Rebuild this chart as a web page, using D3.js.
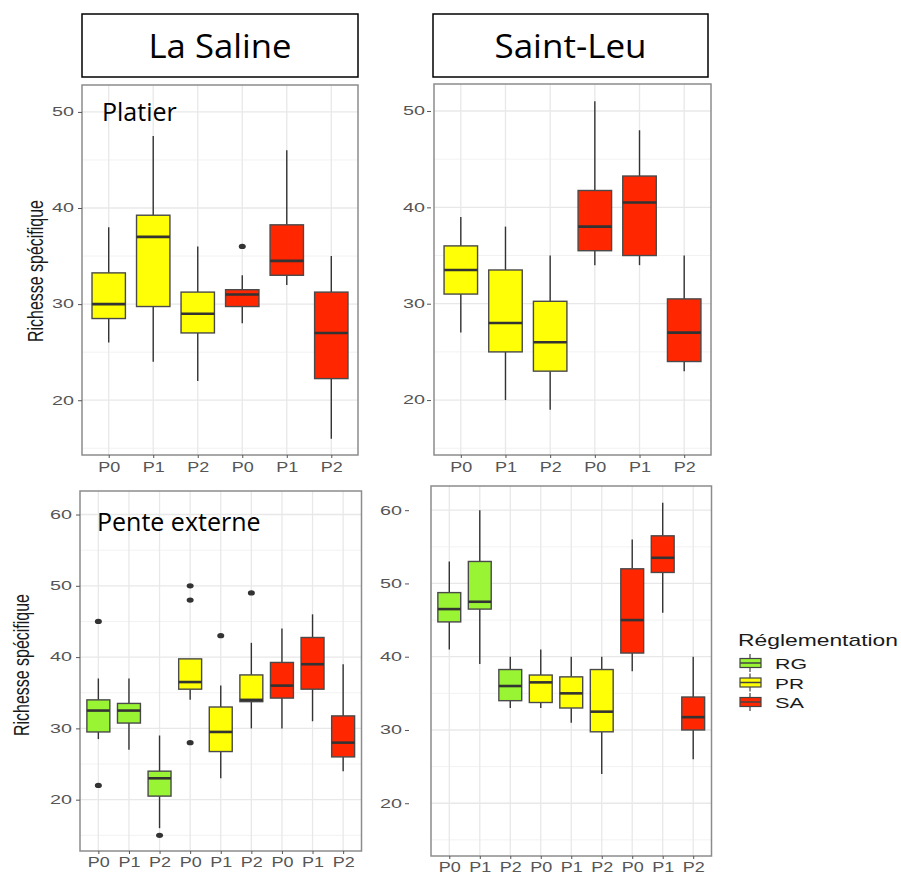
<!DOCTYPE html>
<html>
<head>
<meta charset="utf-8">
<script src="https://cdn.jsdelivr.net/npm/d3@7"></script>
<style>
  body { margin: 0; background: #fff; }
  svg { display: block; }
</style>
</head>
<body>
<div id="chart"></div>
<script>
// categories
const periods = ['P0', 'P1', 'P2'];
const regulations = ['RG', 'PR', 'SA'];
const sites = ['La Saline', 'Saint-Leu'];
const habitats = ['Platier', 'Pente externe'];
const yTicksPlatier = [20, 30, 40, 50];
const yTicksPente = [20, 30, 40, 50, 60];

// box stats: [lower whisker, Q1, median, Q3, upper whisker], periods P0..P2 per regulation
const salinePlatierRegs = ['PR', 'SA'];
const salinePlatierStats = [
  [26, 28.5, 30, 33.25, 38], [24, 29.75, 37, 39.25, 47.5], [22, 27, 29, 31.25, 36],
  [28, 29.75, 31, 31.5, 33], [32, 33, 34.5, 38.25, 46], [16, 22.25, 27, 31.25, 35]
];
const salinePlatierOutliers = [[], [], [], [36], [], []];

const leuPlatierRegs = ['PR', 'SA'];
const leuPlatierStats = [
  [27, 31, 33.5, 36, 39], [20, 25, 28, 33.5, 38], [19, 23, 26, 30.25, 35],
  [34, 35.5, 38, 41.75, 51], [34, 35, 40.5, 43.25, 48], [23, 24, 27, 30.5, 35]
];
const leuPlatierOutliers = [[], [], [], [], [], []];

const salinePenteRegs = ['RG', 'PR', 'SA'];
const salinePenteStats = [
  [28.5, 29.5, 32.5, 34, 37], [27, 30.75, 32.5, 33.5, 37], [16, 20.5, 23, 24, 29],
  [34, 35.5, 36.5, 39.75, 39.75], [23, 26.75, 29.5, 33, 36], [30, 33.75, 34, 37.5, 42],
  [30, 34.25, 36, 39.25, 44], [31, 35.5, 39, 42.75, 46], [24, 26, 28, 31.75, 39]
];
const salinePenteOutliers = [[45, 22], [], [15], [50, 48, 28], [43], [49], [], [], []];

const leuPenteRegs = ['RG', 'PR', 'SA'];
const leuPenteStats = [
  [41, 44.75, 46.5, 48.75, 53], [39, 46.5, 47.5, 53, 60], [33, 34, 36, 38.25, 40],
  [33, 33.75, 36.5, 37.5, 41], [31, 33, 35, 37.25, 40], [24, 29.75, 32.5, 38.25, 40],
  [38, 40.5, 45, 52, 56], [46, 51.5, 53.5, 56.5, 61], [26, 30, 31.75, 34.5, 40]
];
const leuPenteOutliers = [[], [], [], [], [], [], [], [], []];

const fills = { RG: '#99f533', PR: '#ffff05', SA: '#ff2600' };

const W = 901, H = 874;
const svg = d3.select('#chart').append('svg')
  .attr('width', W).attr('height', H)
  .style('font-family', '"Liberation Sans", Arial, sans-serif');

const panels = [
  { regs: salinePlatierRegs, stats: salinePlatierStats, outliers: salinePlatierOutliers,
    ticks: yTicksPlatier, domain: [14.3, 52.8], left: 82, right: 358, top: 85, bottom: 455,
    axisX: 82, labelGap: 4, xLabelGap: 4, label: habitats[0], labelPos: [102, 121] },
  { regs: leuPlatierRegs, stats: leuPlatierStats, outliers: leuPlatierOutliers,
    ticks: yTicksPlatier, domain: [14.3, 52.8], left: 434, right: 711, top: 84, bottom: 455,
    axisX: 431, labelGap: 2, xLabelGap: 4 },
  { regs: salinePenteRegs, stats: salinePenteStats, outliers: salinePenteOutliers,
    ticks: yTicksPente, domain: [12.8, 63.3], left: 80, right: 361.5, top: 491, bottom: 851,
    axisX: 80, labelGap: 4, xLabelGap: 3, label: habitats[1], labelPos: [97, 531] },
  { regs: leuPenteRegs, stats: leuPenteStats, outliers: leuPenteOutliers,
    ticks: yTicksPente, domain: [12.8, 63.3], left: 431, right: 711.5, top: 486, bottom: 856,
    axisX: 409, labelGap: 3, xLabelGap: 3 }
];

panels.forEach(p => {
  const keys = p.regs.flatMap(r => periods.map(per => r + '|' + per));
  const x = d3.scalePoint().domain(keys).range([p.left, p.right]).padding(0.6);
  const y = d3.scaleLinear().domain(p.domain).range([p.bottom, p.top]);
  const g = svg.append('g');

  // minor + major grid
  const minor = d3.range(Math.ceil(p.domain[0] / 5) * 5, p.domain[1], 5).filter(v => v % 10 !== 0);
  g.selectAll('.minor').data(minor).join('line')
    .attr('x1', p.left).attr('x2', p.right)
    .attr('y1', d => y(d)).attr('y2', d => y(d))
    .attr('stroke', '#f2f2f2').attr('stroke-width', 1);
  g.selectAll('.major').data(p.ticks).join('line')
    .attr('x1', p.left).attr('x2', p.right)
    .attr('y1', d => y(d)).attr('y2', d => y(d))
    .attr('stroke', '#e8e8e8').attr('stroke-width', 1.3);
  g.selectAll('.vgrid').data(keys).join('line')
    .attr('x1', d => x(d)).attr('x2', d => x(d))
    .attr('y1', p.top).attr('y2', p.bottom)
    .attr('stroke', '#e8e8e8').attr('stroke-width', 1.3);

  // boxes
  const bw = x.step() * 0.75;
  keys.forEach((k, i) => {
    const [lo, q1, med, q3, hi] = p.stats[i];
    const reg = k.split('|')[0];
    const cx = x(k);
    g.append('line').attr('x1', cx).attr('x2', cx).attr('y1', y(hi)).attr('y2', y(q3))
      .attr('stroke', '#333').attr('stroke-width', 1.4);
    g.append('line').attr('x1', cx).attr('x2', cx).attr('y1', y(q1)).attr('y2', y(lo))
      .attr('stroke', '#333').attr('stroke-width', 1.4);
    g.append('rect').attr('x', cx - bw / 2).attr('width', bw)
      .attr('y', y(q3)).attr('height', y(q1) - y(q3))
      .attr('fill', fills[reg]).attr('stroke', '#4a4a4a').attr('stroke-width', 1.4);
    g.append('line').attr('x1', cx - bw / 2).attr('x2', cx + bw / 2)
      .attr('y1', y(med)).attr('y2', y(med))
      .attr('stroke', '#333').attr('stroke-width', 2.6);
    g.selectAll(null).data(p.outliers[i]).join('ellipse')
      .attr('cx', cx).attr('cy', d => y(d)).attr('rx', 3.5).attr('ry', 2.6)
      .attr('fill', '#333');
  });

  // panel border
  g.append('rect').attr('x', p.left).attr('y', p.top)
    .attr('width', p.right - p.left).attr('height', p.bottom - p.top)
    .attr('fill', 'none').attr('stroke', '#8c8c8c').attr('stroke-width', 1.5);

  // y axis
  const ya = g.append('g').attr('transform', `translate(${p.axisX},0)`)
    .call(d3.axisLeft(y).tickValues(p.ticks).tickSize(4).tickPadding(p.labelGap));
  ya.select('.domain').remove();
  ya.selectAll('line').attr('stroke', '#555');
  ya.selectAll('text').attr('fill', '#555').style('font-size', '12px')
    .attr('textLength', 22).attr('lengthAdjust', 'spacingAndGlyphs');

  // x axis
  const xa = g.append('g').attr('transform', `translate(0,${p.bottom})`)
    .call(d3.axisBottom(x).tickSize(3).tickPadding(p.xLabelGap).tickFormat(d => d.split('|')[1]));
  xa.select('.domain').remove();
  xa.selectAll('line').attr('stroke', '#555');
  xa.selectAll('text').attr('fill', '#555').style('font-size', '14px')
    .attr('textLength', 22).attr('lengthAdjust', 'spacingAndGlyphs');

  if (p.label) {
    g.append('text').attr('x', p.labelPos[0]).attr('y', p.labelPos[1])
      .style('font-family', '"Open Sans", "Noto Sans", sans-serif').style('font-size', '25px')
      .attr('fill', '#000').text(p.label);
  }
});

// site header boxes
const headers = [
  { text: sites[0], x: 82, w: 276, len: 143 },
  { text: sites[1], x: 433, w: 275, len: 152 }
];
headers.forEach(h => {
  svg.append('rect').attr('x', h.x).attr('y', 14).attr('width', h.w).attr('height', 63)
    .attr('fill', '#fff').attr('stroke', '#000').attr('stroke-width', 1.5);
  svg.append('text').attr('x', h.x + h.w / 2).attr('y', 58).attr('text-anchor', 'middle')
    .style('font-family', '"Open Sans", "Noto Sans", sans-serif').style('font-size', '32px')
    .attr('textLength', h.len).attr('lengthAdjust', 'spacingAndGlyphs')
    .text(h.text);
});

// y titles
[[43, 271], [29, 665]].forEach(([tx, ty]) => {
  svg.append('text').attr('transform', `translate(${tx},${ty}) rotate(-90)`)
    .attr('text-anchor', 'middle').style('font-size', '22px').attr('fill', '#1a1a1a')
    .attr('textLength', 142).attr('lengthAdjust', 'spacingAndGlyphs')
    .text('Richesse spécifique');
});

// legend
const leg = svg.append('g');
leg.append('text').attr('x', 738).attr('y', 646).style('font-size', '17px').attr('fill', '#1a1a1a')
  .attr('textLength', 160).attr('lengthAdjust', 'spacingAndGlyphs').text('Réglementation');
const ly = d3.scalePoint().domain(regulations).range([663, 702]);
regulations.forEach(r => {
  const cy = ly(r);
  leg.append('line').attr('x1', 750).attr('x2', 750).attr('y1', cy - 9).attr('y2', cy + 9)
    .attr('stroke', '#444').attr('stroke-width', 1.2);
  leg.append('rect').attr('x', 740).attr('y', cy - 4.5).attr('width', 21).attr('height', 9)
    .attr('fill', fills[r]).attr('stroke', '#444').attr('stroke-width', 1.2);
  leg.append('line').attr('x1', 740).attr('x2', 761).attr('y1', cy).attr('y2', cy)
    .attr('stroke', '#444').attr('stroke-width', 1.5);
  leg.append('text').attr('x', 775).attr('y', cy + 6).style('font-size', '15px').attr('fill', '#1a1a1a')
    .attr('textLength', r === 'RG' ? 32 : 29).attr('lengthAdjust', 'spacingAndGlyphs').text(r);
});
</script>
</body>
</html>
